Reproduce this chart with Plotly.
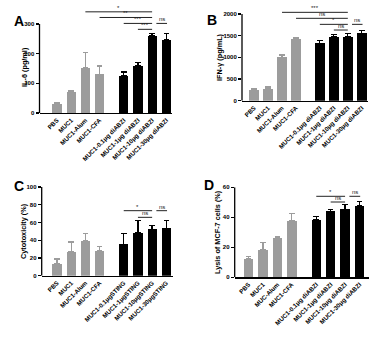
import plotly.graph_objects as go

# ---------------- data ----------------
labels_A = ["PBS", "MUC1", "MUC1-Alum", "MUC1-CFA",
            "MUC1-0.1μg diABZI", "MUC1-1μg diABZI", "MUC1-10μg diABZI", "MUC1-30μg diABZI"]
labels_B = ["PBS", "MUC1", "MUC1-Alum", "MUC1-CFA",
            "MUC1-0.1μg diABZI", "MUC1-1μg diABZI", "MUC1-10μg diABZI", "MUC1-30μg diABZI"]
labels_C = ["PBS", "MUC1", "MUC1-Alum", "MUC1-CFA",
            "MUC1-0.1μgSTING", "MUC1-1μgSTING", "MUC1-10μgSTING", "MUC1-30μgSTING"]
labels_D = ["PBS", "MUC1", "MUC-Alum", "MUC1-CFA",
            "MUC1-0.1μg diABZI", "MUC1-1μg diABZI", "MUC1-10μg diABZI", "MUC1-30μg diABZI"]

il6_mean = [30, 72, 152, 130, 125, 158, 260, 247]
il6_err = [3.5, 4.5, 51, 28, 13, 13, 9, 22]
ifng_mean = [246, 277, 1000, 1431, 1323, 1469, 1469, 1554]
ifng_err = [39, 38, 54, 31, 69, 62, 85, 61]
cyto_mean = [13.5, 27, 39, 27.7, 35.2, 48.3, 52.4, 53.6]
cyto_err = [5.5, 11, 8.6, 5.3, 12, 13.9, 4.2, 8.9]
lysis_mean = [12.2, 18.2, 26.2, 37.8, 38.4, 44, 45.3, 47.6]
lysis_err = [1.8, 4.9, 0.9, 4.6, 2.3, 1.1, 3.1, 2.8]

# comparisons: (group i, group j, label, bracket height in data units)
sig_A = [(2, 6, "*", 341), (3, 6, "**", 322), (4, 6, "***", 302), (5, 6, "***", 282), (6, 7, "ns", 302)]
sig_B = [(2, 6, "***", 2039), (3, 6, "ns", 1901), (4, 6, "*", 1762), (5, 6, "ns", 1631), (6, 7, "ns", 1762)]
sig_C = [(4, 6, "*", 73.3), (5, 6, "ns", 65.8), (6, 7, "ns", 73.3)]
sig_D = [(4, 6, "*", 54), (5, 6, "ns", 50.2), (6, 7, "ns", 54)]

y_ticks_A = [0, 100, 200, 300]
y_ticks_B = [0, 500, 1000, 1500, 2000]
y_ticks_C = [0, 20, 40, 60, 80, 100]
y_ticks_D = [0, 20, 40, 60]

titles = ["IL-6 (pg/ml)", "IFN-γ (pg/mL)", "Cytotoxicity (%)", "Lysis of MCF-7 cells (%)"]
letters = ["A", "B", "C", "D"]

# ---------------- layout helpers ----------------
W, H = 384, 337
FONT = "Liberation Sans, Arial, sans-serif"
GRAY = "#9c9c9c"
GAP = 0.7
pos = [i + (GAP if i >= 4 else 0) for i in range(8)]


def px_x(p):
    return p / W


def px_y(p):
    return 1 - p / H


panels = [
    dict(lab=labels_A, m=il6_mean, e=il6_err, sig=sig_A, ticks=y_ticks_A,
         xr=[-1.23, 8.1], xd=(39.5, 172), yr=[0, 360], yd=(113, 6.2), bw=0.65),
    dict(lab=labels_B, m=ifng_mean, e=ifng_err, sig=sig_B, ticks=y_ticks_B,
         xr=[-0.86, 8.12], xd=(242, 367.7), yr=[0, 2250], yd=(100.7, 3.2), bw=0.68),
    dict(lab=labels_C, m=cyto_mean, e=cyto_err, sig=sig_C, ticks=y_ticks_C,
         xr=[-1.08, 8.17], xd=(41.7, 173), yr=[0, 100], yd=(275.7, 187), bw=0.65),
    dict(lab=labels_D, m=lysis_mean, e=lysis_err, sig=sig_D, ticks=y_ticks_D,
         xr=[-0.965, 8.34], xd=(234.7, 368.7), yr=[0, 60], yd=(277.3, 187.3), bw=0.66),
]

title_pos = [(24, 67), (220, 57), (23, 231), (217, 232)]
letter_pos = [(19, 21), (212, 20), (19, 186), (209, 185)]

fig = go.Figure()
layout = dict(template="none", width=W, height=H, margin=dict(l=0, r=0, t=0, b=0, pad=0),
              autosize=False,
              paper_bgcolor="white", plot_bgcolor="white", showlegend=False,
              font=dict(family=FONT, color="black"), bargap=0)
shapes = []
annotations = []

for k, p in enumerate(panels):
    n = k + 1
    xa = "x" if n == 1 else f"x{n}"
    ya = "y" if n == 1 else f"y{n}"
    xkey = "xaxis" if n == 1 else f"xaxis{n}"
    ykey = "yaxis" if n == 1 else f"yaxis{n}"

    for grp, col in ((range(0, 4), GRAY), (range(4, 8), "black")):
        idx = list(grp)
        fig.add_trace(go.Bar(
            x=[pos[i] for i in idx], y=[p["m"][i] for i in idx],
            width=p["bw"], marker=dict(color=col, line=dict(width=0)),
            error_y=dict(type="data", symmetric=False,
                         array=[p["e"][i] for i in idx],
                         arrayminus=[0] * len(idx),
                         color=col, thickness=1.3, width=2.8),
            xaxis=xa, yaxis=ya, hoverinfo="skip"))

    layout[xkey] = dict(domain=[px_x(p["xd"][0]), px_x(p["xd"][1])], range=p["xr"],
                        anchor=ya, tickvals=pos, ticktext=p["lab"], tickangle=-45,
                        tickfont=dict(size=6.2, family=FONT, weight="bold", color="black"),
                        showline=True, linecolor="black", linewidth=1.3, automargin=False,
                        ticks="", showgrid=False, zeroline=False, fixedrange=True)
    layout[ykey] = dict(domain=[px_y(p["yd"][0]), px_y(p["yd"][1])], range=p["yr"],
                        anchor=xa, tickvals=p["ticks"], automargin=False,
                        tickfont=dict(size=6, family=FONT, weight="bold", color="black"),
                        showline=False, ticks="outside", ticklen=3, tickwidth=1.2,
                        tickcolor="black", showgrid=False, zeroline=False, fixedrange=True)
    shapes.append(dict(type="line", xref=f"{xa} domain", yref=ya, x0=0, x1=0,
                       y0=0, y1=p["ticks"][-1], line=dict(color="black", width=1.3)))

    for (i, j, lab, yv) in p["sig"]:
        x0 = pos[i] + (0.3 if i == 6 else 0)
        x1 = pos[j] + (0.05 if i == 6 else 0)
        shapes.append(dict(type="line", xref=xa, yref=ya, x0=x0, x1=x1, y0=yv, y1=yv,
                           line=dict(color="#222222", width=1)))
        annotations.append(dict(x=(x0 + x1) / 2, y=yv, xref=xa, yref=ya, text=lab,
                                showarrow=False, xanchor="center", yanchor="bottom", yshift=-1,
                                font=dict(size=6, family=FONT, color="#222222")))

    tx, ty = title_pos[k]
    annotations.append(dict(x=px_x(tx), y=px_y(ty), xref="paper", yref="paper",
                            text=titles[k], textangle=-90, showarrow=False,
                            xanchor="center", yanchor="middle",
                            font=dict(size=7.3, family=FONT, weight="bold", color="black")))
    lx, ly = letter_pos[k]
    annotations.append(dict(x=px_x(lx), y=px_y(ly), xref="paper", yref="paper",
                            text=letters[k], showarrow=False,
                            xanchor="center", yanchor="middle",
                            font=dict(size=14, family=FONT, weight="bold", color="black")))

layout["shapes"] = shapes
layout["annotations"] = annotations
fig.update_layout(**layout)
fig.write_html("out.html", config={"displayModeBar": False, "staticPlot": True},
               post_script="document.body.style.margin='0';document.body.style.overflow='hidden';")
